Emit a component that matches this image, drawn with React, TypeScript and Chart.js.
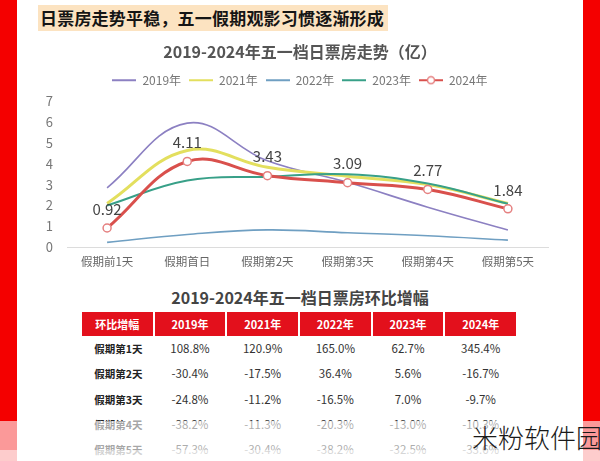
import React, { useEffect, useRef } from "react";
import { Chart, registerables, layouts } from "chart.js";

Chart.register(...registerables);

const FONT = '"Noto Sans CJK SC", "Noto Sans", sans-serif';

const headline = "日票房走势平稳，五一假期观影习惯逐渐形成";
const chartTitle = "2019-2024年五一档日票房走势（亿）";
const categories = ["假期前1天", "假期首日", "假期第2天", "假期第3天", "假期第4天", "假期第5天"];
const seriesNames = ["2019年", "2021年", "2022年", "2023年", "2024年"];
const seriesColors = ["#8c80c2", "#e3df5e", "#6f9fc2", "#38a088", "#d9504c"];
const y2019 = [2.85, 5.95, 4.14, 3.11, 1.92, 0.82];
const y2021 = [2.1, 4.64, 3.83, 3.4, 3.0, 2.1];
const y2022 = [0.23, 0.61, 0.83, 0.69, 0.55, 0.34];
const y2023 = [2.0, 3.2, 3.38, 3.5, 3.05, 2.08];
const y2024 = [0.92, 4.11, 3.43, 3.09, 2.77, 1.84];
const yMin = 0;
const yMax = 7;

const tableTitle = "2019-2024年五一档日票房环比增幅";
const tableHeaders = ["环比增幅", "2019年", "2021年", "2022年", "2023年", "2024年"];
const rowLabels = ["假期第1天", "假期第2天", "假期第3天", "假期第4天", "假期第5天"];
const g2019 = ["108.8%", "-30.4%", "-24.8%", "-38.2%", "-57.3%"];
const g2021 = ["120.9%", "-17.5%", "-11.2%", "-11.3%", "-30.4%"];
const g2022 = ["165.0%", "36.4%", "-16.5%", "-20.3%", "-38.2%"];
const g2023 = ["62.7%", "5.6%", "7.0%", "-13.0%", "-32.5%"];
const g2024 = ["345.4%", "-16.7%", "-9.7%", "-10.3%", "-33.6%"];
const watermark = "米粉软件园";

function makeIcon(color: string, marker: boolean): HTMLCanvasElement {
  const c = document.createElement("canvas");
  c.width = 24;
  c.height = 10;
  const ctx = c.getContext("2d")!;
  ctx.strokeStyle = color;
  ctx.lineWidth = 2;
  ctx.beginPath();
  ctx.moveTo(0, 5);
  ctx.lineTo(24, 5);
  ctx.stroke();
  if (marker) {
    ctx.beginPath();
    ctx.arc(12, 5, 3.5, 0, Math.PI * 2);
    ctx.fillStyle = "#fff";
    ctx.fill();
    ctx.lineWidth = 1.5;
    ctx.strokeStyle = "#e58080";
    ctx.stroke();
  }
  return c;
}

const valueLabelPlugin = {
  id: "valueLabels",
  afterDatasetsDraw(chart: any) {
    const meta = chart.getDatasetMeta(4);
    const ctx = chart.ctx;
    ctx.save();
    ctx.font = `15px ${FONT}`;
    ctx.fillStyle = "#444";
    ctx.textAlign = "center";
    ctx.textBaseline = "middle";
    meta.data.forEach((pt: any, i: number) => {
      ctx.fillText(y2024[i].toFixed(2), pt.x, pt.y - 19);
    });
    ctx.restore();
  },
};

// empty layout box between the legend and the plot area
const spacerPlugin = {
  id: "legendSpacer",
  beforeInit(chart: any) {
    const box: any = {
      position: "top",
      weight: 500,
      fullSize: true,
      options: { stackWeight: 1 },
      top: 0,
      left: 0,
      right: 0,
      bottom: 0,
      width: 0,
      height: 0,
      isHorizontal() {
        return true;
      },
      update(maxWidth: number) {
        this.width = maxWidth;
        this.height = 5;
      },
      getPadding() {
        return { left: 0, right: 0, top: 0, bottom: 0 };
      },
      draw() {},
    };
    layouts.addBox(chart, box);
  },
};

function LineChart() {
  const ref = useRef<HTMLCanvasElement>(null);
  useEffect(() => {
    if (!ref.current) return;
    const icons = seriesColors.map((c, i) => makeIcon(c, i === 4));
    const all = [y2019, y2021, y2022, y2023, y2024];
    const widths = [1.6, 3, 1.6, 2, 3];
    const orders = [3, 2, 4, 1, 0];
    const chart = new Chart(ref.current, {
      type: "line",
      data: {
        labels: categories,
        datasets: all.map((d, i) => ({
          label: seriesNames[i],
          data: d,
          yAxisID: "y",
          borderColor: seriesColors[i],
          backgroundColor: seriesColors[i],
          borderWidth: widths[i],
          tension: 0.4,
          order: orders[i],
          pointRadius: i === 4 ? 4 : 0,
          pointBackgroundColor: "#fff",
          pointBorderColor: "#e58080",
          pointBorderWidth: 1.5,
          fill: false,
        })),
      },
      options: {
        responsive: false,
        animation: false,
        devicePixelRatio: 1,
        layout: { padding: { left: 0, right: 0, top: 0, bottom: 5 } },
        plugins: {
          title: {
            display: true,
            text: chartTitle,
            color: "#555",
            font: { size: 16, weight: "bold", family: FONT },
            padding: { top: 6, bottom: 5 },
          },
          legend: {
            display: true,
            labels: {
              usePointStyle: true,
              pointStyleWidth: 24,
              boxHeight: 10,
              padding: 8,
              color: "#777",
              font: { size: 12, family: FONT },
              sort: (a: any, b: any) => a.datasetIndex - b.datasetIndex,
              generateLabels: (ch: any) => {
                const items = (Chart.defaults.plugins.legend.labels as any).generateLabels(ch);
                items.forEach((it: any) => {
                  it.pointStyle = icons[it.datasetIndex];
                });
                return items;
              },
            },
          },
          tooltip: { enabled: false },
        },
        scales: {
          x: {
            offset: true,
            grid: { display: false, drawTicks: false },
            border: { display: true, color: "#dcdcdc" },
            ticks: { color: "#666", font: { size: 11.5, family: FONT }, padding: 8 },
          },
          y: {
            min: yMin,
            max: yMax,
            grid: { display: false, drawTicks: false },
            border: { display: false },
            ticks: { stepSize: 1, color: "#777", font: { size: 13, family: FONT }, padding: 14 },
            afterFit: (s: any) => {
              s.width = 50;
            },
          },
          yRight: {
            type: "linear",
            position: "right",
            min: yMin,
            max: yMax,
            grid: { display: false, drawTicks: false },
            border: { display: false },
            ticks: { display: false },
            afterFit: (s: any) => {
              s.width = 35;
            },
          },
        },
      } as any,
      plugins: [valueLabelPlugin, spacerPlugin],
    });
    return () => chart.destroy();
  }, []);
  return (
    <canvas
      ref={ref}
      width={566}
      height={246}
      style={{ position: "absolute", left: 17, top: 36, width: 566, height: 246 }}
    />
  );
}

export default function App() {
  const cols = [g2019, g2021, g2022, g2023, g2024];
  const colW = 72.67;
  return (
    <div
      style={{
        position: "absolute",
        left: 0,
        top: 0,
        width: 600,
        height: 461,
        background: "#fff",
        overflow: "hidden",
        fontFamily: FONT,
      }}
    >
      <div style={{ position: "absolute", left: 0, top: 0, width: 17, height: 461, background: "#f40000" }} />
      <div style={{ position: "absolute", left: 583, top: 0, width: 17, height: 461, background: "#f40000" }} />
      <div
        style={{
          position: "absolute",
          left: 38,
          top: 5,
          width: 350,
          height: 26,
          background: "#fce3c1",
        }}
      />
      <div
        style={{
          position: "absolute",
          left: 40,
          top: 5,
          height: 26,
          lineHeight: "26px",
          fontSize: 17,
          fontWeight: 700,
          color: "#151515",
          letterSpacing: 0.2,
          whiteSpace: "nowrap",
        }}
      >
        {headline}
      </div>
      <LineChart />
      <div
        style={{
          position: "absolute",
          left: 0,
          width: 600,
          top: 286,
          textAlign: "center",
          fontSize: 16,
          fontWeight: 700,
          color: "#444",
          lineHeight: "22px",
        }}
      >
        {tableTitle}
      </div>
      {tableHeaders.map((h, i) => (
        <div
          key={h}
          style={{
            position: "absolute",
            left: 82 + i * colW,
            top: 312,
            width: colW - 2,
            height: 24,
            background: "#e3101c",
            color: "#fff",
            fontSize: 11,
            fontWeight: 700,
            lineHeight: "24px",
            textAlign: "center",
          }}
        >
          {h}
        </div>
      ))}
      {rowLabels.map((r, ri) => (
        <React.Fragment key={r}>
          <div
            style={{
              position: "absolute",
              left: 82,
              top: 336 + ri * 25.3,
              width: colW,
              height: 25,
              lineHeight: "25px",
              textAlign: "center",
              fontSize: 10.5,
              fontWeight: 700,
              color: "#222",
            }}
          >
            {r}
          </div>
          {cols.map((c, ci) => (
            <div
              key={ci}
              style={{
                position: "absolute",
                left: 82 + (ci + 1) * colW,
                top: 336 + ri * 25.3,
                width: colW - 2,
                height: 25,
                lineHeight: "25px",
                textAlign: "center",
                fontSize: 11.5,
                color: "#333",
              }}
            >
              {c[ri]}
            </div>
          ))}
        </React.Fragment>
      ))}
      <div style={{ position: "absolute", left: 0, top: 421, width: 600, height: 29, background: "rgba(255,255,255,0.6)" }} />
      <div style={{ position: "absolute", left: 0, top: 450, width: 600, height: 11, background: "rgba(255,255,255,0.8)" }} />
      <div
        style={{
          position: "absolute",
          left: 472,
          top: 423,
          fontSize: 26,
          lineHeight: "28px",
          color: "#1a1a1a",
          fontWeight: 300,
          whiteSpace: "nowrap",
        }}
      >
        {watermark}
      </div>
    </div>
  );
}
